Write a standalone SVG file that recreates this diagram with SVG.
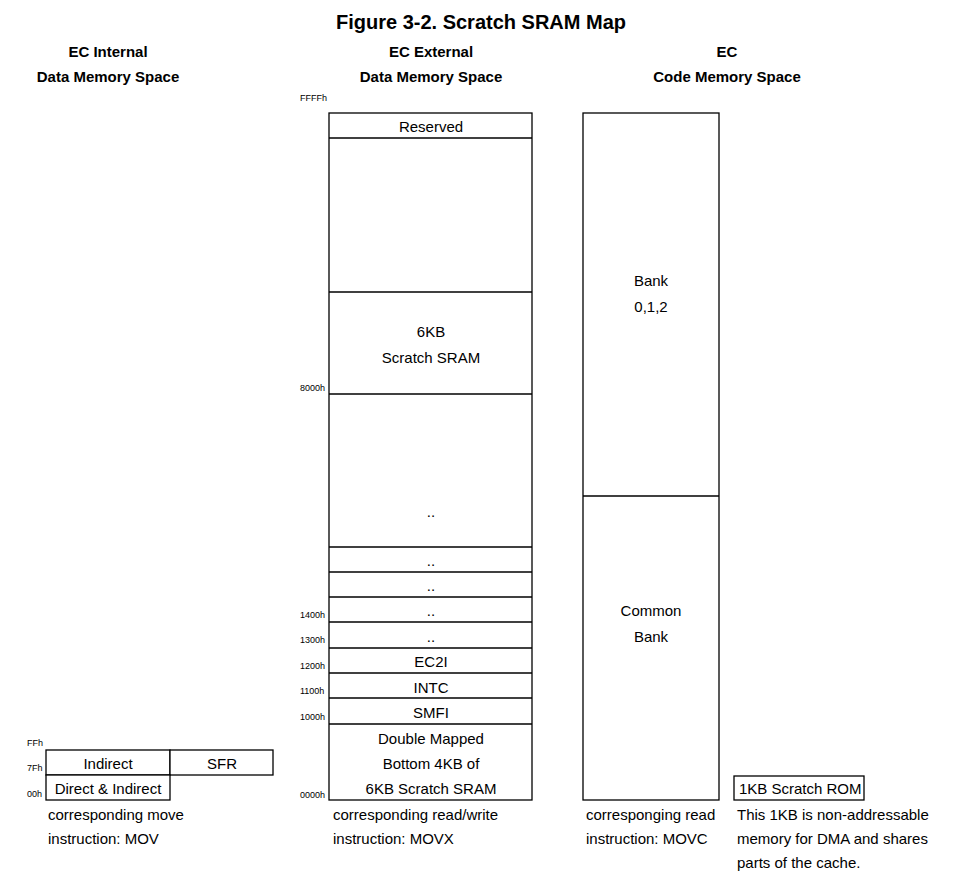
<svg xmlns="http://www.w3.org/2000/svg" width="954" height="894" viewBox="0 0 954 894">
<style>
text{font-family:"Liberation Sans",Arial,sans-serif;fill:#000}
.t{font-size:20px;font-weight:bold}
.h{font-size:15px;font-weight:bold}
.b{font-size:15px}
.s{font-size:9px}
.m{text-anchor:middle}
.box{fill:#fff;stroke:#000;stroke-width:1.3}
.ln{stroke:#000;stroke-width:1.3;fill:none}
</style>
<rect width="954" height="894" fill="#fff"/>
<text class="t m" x="481" y="29">Figure 3-2. Scratch SRAM Map</text>
<g id="headers">
<text class="h m" x="108" y="57">EC Internal</text>
<text class="h m" x="108" y="82">Data Memory Space</text>
<text class="h m" x="431" y="57">EC External</text>
<text class="h m" x="431" y="82">Data Memory Space</text>
<text class="h m" x="727" y="57">EC</text>
<text class="h m" x="727" y="82">Code Memory Space</text>
</g>
<g id="internal">
<rect class="box" x="46" y="750" width="124" height="25"/>
<rect class="box" x="170" y="750" width="103" height="25"/>
<rect class="box" x="46" y="775" width="124" height="25"/>
<text class="b m" x="108" y="769">Indirect</text>
<text class="b m" x="222" y="769">SFR</text>
<text class="b m" x="108" y="794">Direct &amp; Indirect</text>
<text class="s" x="27" y="746">FFh</text>
<text class="s" x="27" y="771">7Fh</text>
<text class="s" x="27" y="797">00h</text>
<text class="b" x="48" y="820">corresponding move</text>
<text class="b" x="48" y="844">instruction: MOV</text>
</g>
<g id="external">
<rect class="box" x="329" y="113" width="203" height="687"/>
<g class="ln">
<line x1="329" y1="138" x2="532" y2="138"/>
<line x1="329" y1="292" x2="532" y2="292"/>
<line x1="329" y1="394" x2="532" y2="394"/>
<line x1="329" y1="547" x2="532" y2="547"/>
<line x1="329" y1="572" x2="532" y2="572"/>
<line x1="329" y1="597" x2="532" y2="597"/>
<line x1="329" y1="622" x2="532" y2="622"/>
<line x1="329" y1="648" x2="532" y2="648"/>
<line x1="329" y1="673" x2="532" y2="673"/>
<line x1="329" y1="698" x2="532" y2="698"/>
<line x1="329" y1="724" x2="532" y2="724"/>
</g>
<text class="b m" x="431" y="132">Reserved</text>
<text class="b m" x="431" y="337">6KB</text>
<text class="b m" x="431" y="363">Scratch SRAM</text>
<text class="b m" x="431" y="517">..</text>
<text class="b m" x="431" y="566">..</text>
<text class="b m" x="431" y="591">..</text>
<text class="b m" x="431" y="616">..</text>
<text class="b m" x="431" y="642">..</text>
<text class="b m" x="431" y="667">EC2I</text>
<text class="b m" x="431" y="693">INTC</text>
<text class="b m" x="431" y="718">SMFI</text>
<text class="b m" x="431" y="744">Double Mapped</text>
<text class="b m" x="431" y="769">Bottom 4KB of</text>
<text class="b m" x="431" y="794">6KB Scratch SRAM</text>
<text class="s" x="300" y="101">FFFFh</text>
<text class="s" x="300" y="391">8000h</text>
<text class="s" x="300" y="618">1400h</text>
<text class="s" x="300" y="643">1300h</text>
<text class="s" x="300" y="669">1200h</text>
<text class="s" x="300" y="694">1100h</text>
<text class="s" x="300" y="720">1000h</text>
<text class="s" x="300" y="798">0000h</text>
<text class="b" x="333" y="820">corresponding read/write</text>
<text class="b" x="333" y="844">instruction: MOVX</text>
</g>
<g id="code">
<rect class="box" x="583" y="113" width="136" height="687"/>
<line class="ln" x1="583" y1="496" x2="719" y2="496"/>
<text class="b m" x="651" y="286">Bank</text>
<text class="b m" x="651" y="312">0,1,2</text>
<text class="b m" x="651" y="616">Common</text>
<text class="b m" x="651" y="642">Bank</text>
<text class="b" x="586" y="820">corresponging read</text>
<text class="b" x="586" y="844">instruction: MOVC</text>
</g>
<g id="rom">
<rect class="box" x="734" y="776" width="130" height="24"/>
<text class="b" x="739" y="794">1KB Scratch ROM</text>
<text class="b" x="737" y="820">This 1KB is non-addressable</text>
<text class="b" x="737" y="844">memory for DMA and shares</text>
<text class="b" x="737" y="868">parts of the cache.</text>
</g>
<g id="connectors"></g>
</svg>
